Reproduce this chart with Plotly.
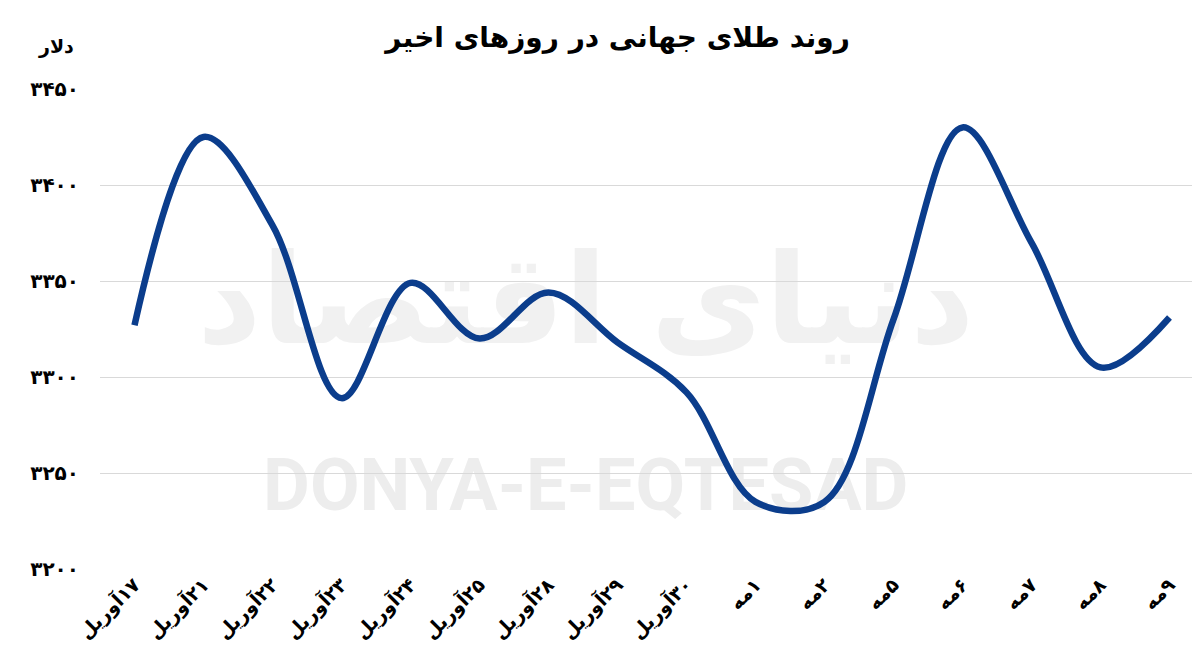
import plotly.graph_objects as go

title_text = "روند طلای جهانی در روزهای اخیر"
unit_text = "دلار"
categories = ["۱۷آوریل", "۲۱آوریل", "۲۲آوریل", "۲۳آوریل", "۲۴آوریل", "۲۵آوریل",
              "۲۸آوریل", "۲۹آوریل", "۳۰آوریل", "۱مه", "۲مه", "۵مه", "۶مه",
              "۷مه", "۸مه", "۹مه"]
gold_price = [3327, 3425, 3379, 3289, 3349, 3320, 3344, 3318, 3292, 3235,
              3235, 3330, 3430, 3370, 3305, 3331]
tick_values = [3200, 3250, 3300, 3350, 3400, 3450]
tick_labels = ["۳۲۰۰", "۳۲۵۰", "۳۳۰۰", "۳۳۵۰", "۳۴۰۰", "۳۴۵۰"]

FONT = "DejaVu Sans"
RLM = "\u200f"

fig = go.Figure()
fig.add_trace(go.Scatter(
    x=categories, y=gold_price, mode="lines",
    line=dict(color="#0b3d8c", width=6.5, shape="spline", smoothing=1.0),
    hoverinfo="x+y", showlegend=False,
))

fig.update_layout(
    width=1200, height=668,
    paper_bgcolor="white", plot_bgcolor="white",
    margin=dict(l=92, r=4, t=81, b=107),
    font=dict(family=FONT, color="black"),
    title=dict(text="<b>" + title_text + "</b>", x=0.508, xanchor="center",
               y=0.957, yanchor="middle",
               font=dict(family=FONT, size=28, color="black")),
    xaxis=dict(type="category", range=[-0.5, 15.5], showgrid=False,
               showline=False, ticks="", tickangle=-45,
               tickvals=categories,
               ticktext=["<b>" + RLM + c + "</b>" for c in categories],
               tickfont=dict(family=FONT, size=19, color="black")),
    yaxis=dict(range=[3200, 3450], tickvals=tick_values,
               ticktext=["<b>" + t + "</b>" for t in tick_labels],
               showgrid=True, gridcolor="#d9d9d9", gridwidth=1,
               zeroline=False, showline=False, ticks="",
               ticklabelstandoff=20,
               tickfont=dict(family=FONT, size=20, color="black")),
    annotations=[dict(text="<b>" + unit_text + "</b>", xref="paper", yref="paper",
                      x=-0.022, y=1.088, xanchor="right", yanchor="middle",
                      showarrow=False,
                      font=dict(family=FONT, size=19, color="black"))],
    shapes=[
        dict(type="rect", xref="paper", yref="paper", x0=-0.02, x1=0.90,
             y0=0.10, y1=0.27, line=dict(width=0), fillcolor="rgba(0,0,0,0)",
             layer="below",
             label=dict(text="<b>DONYA-E-EQTESAD</b>", textposition="middle center",
                        font=dict(family="Roboto", size=72, color="#ededed"))),
        dict(type="rect", xref="paper", yref="paper", x0=-0.02, x1=0.90,
             y0=0.37, y1=0.79, line=dict(width=0), fillcolor="rgba(0,0,0,0)",
             layer="below",
             label=dict(text="<b>دنیای اقتصاد</b>", textposition="middle center",
                        font=dict(family=FONT, size=125, color="#f1f1f1"))),
    ],
)

fig.write_html("out.html")
